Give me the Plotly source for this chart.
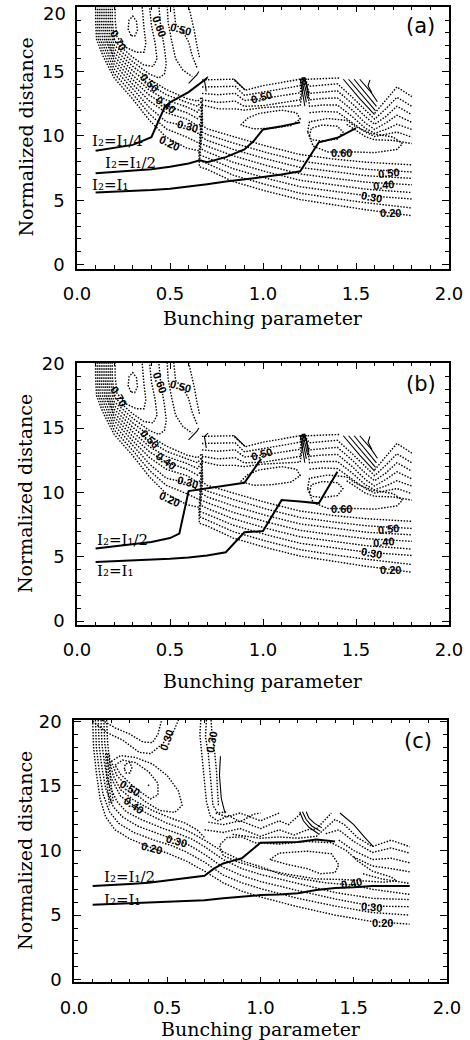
import plotly.graph_objects as go

# ---------------- axis text ----------------
X_TICK_VALUES = [0.0, 0.5, 1.0, 1.5, 2.0]
X_TICK_LABELS = ["0.0", "0.5", "1.0", "1.5", "2.0"]
Y_TICK_VALUES = [0, 5, 10, 15, 20]
Y_TICK_LABELS = ["0", "5", "10", "15", "20"]
X_TITLE = "Bunching parameter"
Y_TITLE = "Normalized distance"
PANEL_TAGS = ["(a)", "(b)", "(c)"]

# ---------------- solid current-ratio curves ----------------
a_i14_x = [0.10, 0.20, 0.30, 0.40, 0.47, 0.50, 0.60, 0.70]
a_i14_y = [8.85, 9.05, 9.30, 9.90, 12.20, 12.60, 13.40, 14.50]
a_i12_x = [0.10, 0.20, 0.30, 0.40, 0.50, 0.60, 0.66, 0.70, 0.80, 0.90, 0.95, 1.00, 1.10, 1.20]
a_i12_y = [7.10, 7.20, 7.30, 7.40, 7.60, 7.85, 8.10, 7.95, 8.35, 8.95, 9.60, 10.50, 10.75, 11.05]
a_i11_x = [0.10, 0.20, 0.30, 0.40, 0.50, 0.60, 0.70, 0.80, 0.90, 1.00, 1.10, 1.20, 1.30, 1.40, 1.50]
a_i11_y = [5.60, 5.65, 5.70, 5.80, 5.90, 6.05, 6.25, 6.45, 6.60, 6.80, 7.00, 7.25, 9.50, 9.85, 10.60]

b_i12_x = [0.10, 0.20, 0.30, 0.40, 0.50, 0.55, 0.60, 0.70, 0.80, 0.90, 0.99]
b_i12_y = [5.65, 5.80, 5.95, 6.15, 6.45, 6.80, 10.10, 10.30, 10.50, 10.75, 12.60]
b_i11_x = [0.10, 0.20, 0.30, 0.40, 0.50, 0.60, 0.70, 0.80, 0.90, 1.00, 1.10, 1.20, 1.30, 1.40]
b_i11_y = [4.60, 4.65, 4.70, 4.75, 4.85, 4.95, 5.10, 5.35, 6.90, 7.00, 9.40, 9.30, 9.15, 11.60]

c_i12_x = [0.10, 0.20, 0.30, 0.40, 0.50, 0.60, 0.70, 0.75, 0.80, 0.85, 0.90, 1.00, 1.10, 1.20, 1.30, 1.40]
c_i12_y = [7.25, 7.30, 7.40, 7.50, 7.70, 7.85, 8.05, 8.60, 9.00, 9.20, 9.40, 10.60, 10.62, 10.65, 10.85, 10.70]
c_i11_x = [0.10, 0.20, 0.30, 0.40, 0.50, 0.60, 0.70, 0.80, 0.90, 1.00, 1.10, 1.20, 1.30, 1.40, 1.50, 1.60, 1.70, 1.80]
c_i11_y = [5.80, 5.85, 5.90, 5.95, 6.00, 6.05, 6.15, 6.30, 6.42, 6.55, 6.60, 6.70, 6.95, 7.10, 7.15, 7.25, 7.25, 7.25]

# curve captions: (text, x, y)
a_captions = [("I₂=I₁/4", 0.07, 9.6),
              ("I₂=I₁/2", 0.14, 7.9),
              ("I₂=I₁", 0.07, 6.2)]
b_captions = [("I₂=I₁/2", 0.097, 6.3),
              ("I₂=I₁", 0.097, 3.9)]
c_captions = [("I₂=I₁/2", 0.15, 7.95),
              ("I₂=I₁", 0.15, 6.17)]

# ---------------- efficiency contours, panels (a) and (b) ----------------
ab_c020 = [(0.100, 20.1), (0.100, 19.0), (0.105, 17.5), (0.14, 16.2), (0.20, 14.5), (0.30, 12.85), (0.39, 11.2), (0.48, 9.9), (0.59, 9.05), (0.648, 8.85), (0.655, 8.85), (0.658, 7.6), (0.70, 7.4), (0.84, 6.45), (1.02, 5.70), (1.20, 5.05), (1.38, 4.65), (1.56, 4.25), (1.80, 3.80)]
ab_c025 = [(0.110, 20.1), (0.110, 19.0), (0.115, 17.5), (0.15, 16.3), (0.20, 14.85), (0.30, 13.25), (0.39, 11.7), (0.48, 10.55), (0.59, 9.9), (0.648, 9.5), (0.6575, 9.5), (0.6605, 8.1), (0.70, 7.85), (0.84, 6.95), (1.02, 6.20), (1.20, 5.55), (1.38, 5.15), (1.56, 4.80), (1.80, 4.40)]
ab_c030 = [(0.120, 20.1), (0.120, 19.0), (0.125, 17.5), (0.16, 16.4), (0.20, 15.2), (0.30, 13.65), (0.39, 12.2), (0.48, 11.1), (0.59, 10.75), (0.648, 10.2), (0.660, 10.2), (0.663, 8.5), (0.70, 8.30), (0.84, 7.45), (1.02, 6.70), (1.20, 6.05), (1.38, 5.70), (1.56, 5.35), (1.80, 5.10)]
ab_c035 = [(0.130, 20.1), (0.130, 19.0), (0.137, 17.5), (0.17, 16.5), (0.20, 15.55), (0.30, 14.0), (0.39, 12.7), (0.48, 11.8), (0.59, 11.3), (0.648, 10.8), (0.6625, 10.9), (0.6655, 9.0), (0.70, 8.75), (0.84, 7.95), (1.02, 7.20), (1.20, 6.55), (1.38, 6.20), (1.56, 5.85), (1.80, 5.60)]
ab_c040 = [(0.140, 20.1), (0.140, 19.0), (0.148, 17.5), (0.18, 16.6), (0.20, 15.85), (0.30, 14.35), (0.39, 13.15), (0.48, 12.35), (0.59, 11.8), (0.648, 11.35), (0.665, 11.6), (0.668, 9.4), (0.70, 9.20), (0.84, 8.45), (1.02, 7.70), (1.20, 7.05), (1.38, 6.70), (1.56, 6.40), (1.80, 6.20)]
ab_c045 = [(0.150, 20.1), (0.150, 19.0), (0.158, 17.5), (0.20, 16.15), (0.30, 14.7), (0.39, 13.55), (0.48, 12.8), (0.59, 12.25), (0.648, 11.85), (0.6675, 12.3), (0.6705, 9.9), (0.70, 9.65), (0.84, 8.95), (1.02, 8.20), (1.20, 7.55), (1.38, 7.20), (1.56, 6.90), (1.80, 6.70)]
ab_c050 = [(0.160, 20.1), (0.160, 19.0), (0.168, 17.5), (0.20, 16.45), (0.30, 15.05), (0.39, 14.0), (0.48, 13.2), (0.59, 12.6), (0.648, 12.3), (0.670, 12.7), (0.673, 10.3), (0.70, 10.10), (0.84, 9.45), (1.02, 8.70), (1.20, 8.05), (1.38, 7.70), (1.56, 7.40), (1.80, 7.20)]
ab_c055 = [(0.170, 20.1), (0.170, 19.0), (0.178, 17.5), (0.20, 16.75), (0.30, 15.4), (0.39, 14.4), (0.48, 13.6), (0.59, 12.9), (0.648, 12.7), (0.6725, 13.0), (0.6755, 10.8), (0.70, 10.55), (0.84, 9.95), (1.02, 9.20), (1.20, 8.55), (1.38, 8.20), (1.56, 7.95), (1.80, 7.75)]
ab_c060 = [(0.18, 20.1), (0.18, 19.0), (0.19, 17.5), (0.20, 17.05), (0.30, 15.75), (0.39, 14.8), (0.44, 14.5), (0.47, 14.8), (0.48, 15.6), (0.47, 16.8), (0.45, 18.5), (0.44, 20.1)]
ab_c065 = [(0.19, 20.1), (0.19, 19.0), (0.20, 17.4), (0.30, 16.1), (0.36, 15.5), (0.41, 15.4), (0.43, 16.0), (0.42, 17.2), (0.40, 18.6), (0.39, 20.1)]
ab_c070 = [(0.205, 20.1), (0.205, 19.0), (0.215, 17.7), (0.26, 16.9), (0.32, 16.5), (0.36, 16.5), (0.37, 17.2), (0.36, 18.4), (0.35, 20.1)]
ab_c075 = [(0.29, 17.8), (0.275, 18.3), (0.28, 19.0), (0.30, 19.3), (0.32, 18.9), (0.325, 18.2), (0.31, 17.75), (0.29, 17.8)]
ab_r055 = [(0.485, 20.1), (0.49, 18.8), (0.51, 17.3), (0.53, 16.0), (0.57, 15.1), (0.62, 14.6)]
ab_r050 = [(0.52, 20.1), (0.53, 18.7), (0.57, 18.1), (0.60, 17.3), (0.62, 16.2), (0.645, 15.3)]
ab_r045 = [(0.60, 20.1), (0.615, 19.2), (0.63, 18.2), (0.645, 17.0), (0.66, 16.0)]
ab_up1 = [(0.672, 14.35), (0.76, 14.35), (0.84, 14.4), (0.905, 13.55), (1.0, 13.9), (1.1, 14.15), (1.2, 14.4), (1.24, 14.4), (1.32, 14.45), (1.41, 14.5)]
ab_up1r = [(1.6, 11.75), (1.66, 12.75), (1.72, 13.8), (1.8, 13.05)]
ab_up2 = [(0.672, 13.8), (0.76, 13.8), (0.85, 13.85), (0.90, 13.15), (1.0, 13.4), (1.1, 13.65), (1.2, 13.9), (1.205, 14.5), (1.213, 14.5), (1.25, 13.85), (1.32, 13.95), (1.4, 14.05), (1.48, 13.0), (1.55, 12.0), (1.6, 11.3), (1.66, 12.1), (1.72, 13.0), (1.8, 12.3)]
ab_up3 = [(0.672, 13.3), (0.76, 13.2), (0.85, 13.3), (0.90, 12.75), (1.0, 12.9), (1.1, 13.15), (1.2, 13.35), (1.211, 14.5), (1.219, 14.5), (1.25, 13.3), (1.32, 13.4), (1.4, 13.5), (1.48, 12.5), (1.55, 11.5), (1.6, 10.9), (1.66, 11.5), (1.72, 12.3), (1.8, 11.65)]
ab_up4 = [(0.672, 12.8), (0.76, 12.6), (0.85, 12.7), (0.90, 12.3), (1.0, 12.35), (1.1, 12.6), (1.2, 12.8), (1.217, 14.5), (1.225, 14.5), (1.25, 12.8), (1.32, 12.9), (1.4, 12.95), (1.48, 12.0), (1.55, 11.0), (1.6, 10.5), (1.66, 11.0), (1.72, 11.6), (1.8, 11.05)]
ab_up5 = [(0.672, 12.4), (0.76, 12.1), (0.85, 12.1), (0.90, 12.0), (1.0, 12.2), (1.1, 12.3), (1.2, 12.35), (1.223, 14.5), (1.231, 14.5), (1.25, 12.3), (1.32, 12.4), (1.4, 12.4), (1.48, 11.5), (1.55, 10.6), (1.6, 10.2), (1.66, 10.5), (1.72, 10.9), (1.8, 10.5)]
ab_up6 = [(1.25, 11.8), (1.32, 11.9), (1.4, 11.85), (1.48, 11.0), (1.55, 10.3), (1.6, 9.95), (1.66, 10.1), (1.72, 10.3), (1.8, 9.9)]
ab_up7 = [(1.45, 10.9), (1.5, 10.4), (1.55, 9.95), (1.6, 9.7), (1.7, 9.65), (1.8, 9.4)]
ab_mid_loop = [(0.88, 10.85), (0.92, 11.4), (0.98, 11.75), (1.1, 12.0), (1.18, 11.8), (1.2, 11.3), (1.15, 10.8), (1.05, 10.6), (0.95, 10.55), (0.88, 10.85)]
ab_right_small = [(1.25, 10.0), (1.26, 10.6), (1.32, 10.85), (1.40, 10.75), (1.43, 10.3), (1.40, 9.75), (1.32, 9.6), (1.26, 9.7), (1.25, 10.0)]
ab_right_big = [(1.24, 10.3), (1.25, 11.1), (1.35, 11.35), (1.45, 11.2), (1.5, 10.7), (1.58, 10.2), (1.70, 9.9), (1.75, 9.4), (1.72, 8.95), (1.6, 8.7), (1.5, 8.75), (1.35, 8.75), (1.27, 9.2), (1.24, 10.3)]
ab_dotted = [ab_c020, ab_c025, ab_c030, ab_c035, ab_c040, ab_c045, ab_c050, ab_c055,
             ab_c060, ab_c065, ab_c070, ab_c075, ab_r055, ab_r050, ab_r045,
             ab_up1, ab_up1r, ab_up2, ab_up3, ab_up4, ab_up5, ab_up6, ab_up7,
             ab_mid_loop, ab_right_small, ab_right_big]

ab_s_arc = [(0.60, 14.08), (0.625, 14.45), (0.645, 14.75), (0.655, 15.0)]
ab_s_hook = [(0.705, 14.6), (0.685, 14.35), (0.695, 13.45)]
ab_s_zig = [(0.845, 14.4), (0.875, 13.95), (0.905, 13.55)]
ab_s_h1 = [(1.200, 14.45), (1.225, 12.3)]
ab_s_h2 = [(1.208, 14.45), (1.233, 12.6)]
ab_s_h3 = [(1.216, 14.45), (1.240, 12.9)]
ab_s_h4 = [(1.224, 14.45), (1.247, 13.2)]
ab_s_1 = [(1.432, 14.4), (1.52, 12.9), (1.60, 11.65)]
ab_s_2 = [(1.46, 14.4), (1.54, 13.0), (1.605, 11.95)]
ab_s_3 = [(1.49, 14.4), (1.56, 13.2), (1.61, 12.3)]
ab_s_4 = [(1.52, 14.4), (1.58, 13.4), (1.615, 12.65)]
ab_s_5 = [(1.575, 14.35), (1.565, 13.9), (1.585, 13.35)]
ab_solid = [ab_s_arc, ab_s_hook, ab_s_zig, ab_s_h1, ab_s_h2, ab_s_h3, ab_s_h4,
            ab_s_1, ab_s_2, ab_s_3, ab_s_4, ab_s_5]

ab_labels = [("0.70", 0.222, 17.45, 60), ("0.60", 0.446, 18.49, 70), ("0.50", 0.554, 18.28, 15),
             ("0.50", 0.392, 14.13, 45), ("0.40", 0.478, 12.4, 35), ("0.30", 0.593, 10.77, 15),
             ("0.20", 0.496, 9.47, 25), ("0.50", 0.993, 13.0, -15), ("0.60", 1.423, 8.7, 0),
             ("0.50", 1.674, 7.14, -5), ("0.40", 1.647, 6.18, -5), ("0.30", 1.584, 5.28, 10),
             ("0.20", 1.683, 3.99, 0)]

# ---------------- efficiency contours, panel (c) ----------------
c_c020 = [(0.10, 20.1), (0.105, 18.0), (0.12, 16.0), (0.14, 14.0), (0.17, 12.6), (0.22, 11.6), (0.30, 10.9), (0.416, 10.2), (0.50, 9.8), (0.60, 9.2), (0.70, 8.4), (0.80, 7.5), (0.90, 6.85), (1.0, 6.4), (1.2, 5.65), (1.4, 5.0), (1.6, 4.5), (1.8, 4.3)]
c_c025 = [(0.115, 20.1), (0.12, 18.0), (0.135, 16.2), (0.155, 14.4), (0.19, 13.0), (0.24, 12.1), (0.32, 11.4), (0.43, 10.8), (0.52, 10.4), (0.60, 9.9), (0.70, 9.1), (0.80, 8.1), (0.90, 7.5), (1.0, 7.05), (1.2, 6.3), (1.4, 5.7), (1.6, 5.2), (1.8, 5.0)]
c_c030 = [(0.13, 20.1), (0.135, 18.1), (0.15, 16.4), (0.17, 14.8), (0.21, 13.4), (0.26, 12.6), (0.34, 11.9), (0.45, 11.3), (0.55, 10.8), (0.62, 10.4), (0.70, 9.7), (0.80, 8.7), (0.90, 8.05), (1.0, 7.6), (1.2, 6.9), (1.4, 6.25), (1.6, 5.7), (1.8, 5.65)]
c_c035 = [(0.145, 20.1), (0.15, 18.2), (0.165, 16.6), (0.185, 15.2), (0.23, 13.8), (0.28, 13.0), (0.36, 12.4), (0.47, 11.75), (0.56, 11.3), (0.63, 10.9), (0.70, 10.3), (0.80, 9.3), (0.90, 8.6), (1.0, 8.15), (1.2, 7.45), (1.4, 6.75), (1.6, 6.3), (1.8, 6.2)]
c_c040 = [(0.16, 20.1), (0.165, 18.3), (0.18, 16.8), (0.20, 15.6), (0.25, 14.2), (0.318, 13.5), (0.40, 12.8), (0.50, 12.1), (0.58, 11.7), (0.64, 11.3), (0.70, 10.8), (0.80, 9.9), (0.90, 9.2), (1.0, 8.75), (1.1, 8.2), (1.2, 7.85), (1.35, 7.5), (1.489, 7.33), (1.6, 7.0), (1.8, 6.6)]
c_c045 = [(0.175, 20.1), (0.18, 18.4), (0.19, 17.0), (0.21, 15.8), (0.25, 14.7), (0.32, 13.9), (0.42, 13.1), (0.52, 12.5), (0.60, 12.1), (0.66, 11.6), (0.70, 11.0)]
c_h1 = [(0.17, 17.5), (0.175, 15.5), (0.19, 13.5)]
c_h2 = [(0.18, 17.5), (0.185, 15.5), (0.20, 13.6)]
c_h3 = [(0.19, 17.4), (0.195, 15.6), (0.21, 13.8)]
c_p1 = [(0.27, 16.3), (0.275, 16.7), (0.30, 16.8), (0.31, 16.4), (0.30, 16.0), (0.28, 16.0), (0.27, 16.3)]
c_dot = [(0.398, 15.0), (0.402, 15.1)]
c_p2 = [(0.22, 16.6), (0.26, 17.0), (0.33, 16.8), (0.40, 16.1), (0.45, 15.2), (0.45, 14.3), (0.41, 14.0), (0.36, 14.5), (0.30, 15.2), (0.25, 15.9), (0.22, 16.6)]
c_p3 = [(0.20, 16.9), (0.25, 17.35), (0.33, 17.2), (0.42, 16.7), (0.50, 15.8), (0.56, 14.6), (0.58, 13.5), (0.54, 12.95), (0.46, 13.1), (0.38, 13.8), (0.297, 14.8), (0.23, 15.8), (0.20, 16.9)]
c_t1 = [(0.10, 20.0), (0.18, 19.1), (0.26, 18.55), (0.35, 17.6), (0.41, 17.5), (0.47, 18.2), (0.53, 19.1), (0.56, 20.1)]
c_t2 = [(0.15, 20.1), (0.22, 19.5), (0.30, 19.0), (0.37, 18.4), (0.42, 18.35), (0.45, 19.0), (0.47, 20.1)]
c_v1 = [(0.68, 20.1), (0.675, 19.0), (0.685, 17.5), (0.70, 15.5), (0.71, 13.8), (0.73, 12.7), (0.77, 12.3), (0.83, 12.7), (0.89, 12.2), (0.96, 12.8), (1.0, 12.9)]
c_v2 = [(0.71, 20.1), (0.705, 18.8), (0.72, 17.5), (0.735, 15.0), (0.745, 13.5), (0.77, 12.9), (0.82, 13.0)]
c_v3 = [(0.735, 20.1), (0.74, 19.0), (0.755, 17.5), (0.765, 16.0), (0.77, 14.5), (0.775, 13.4)]
c_z1 = [(0.76, 12.9), (0.82, 12.6), (0.89, 12.9), (1.0, 12.3), (1.1, 12.9)]
c_z2 = [(0.72, 12.2), (0.80, 12.0), (0.89, 12.3), (1.0, 11.7), (1.1, 12.3), (1.15, 12.0), (1.22, 12.9)]
c_z3 = [(0.70, 11.6), (0.80, 11.4), (0.89, 11.7), (1.0, 11.1), (1.1, 11.6), (1.18, 11.2), (1.25, 11.6), (1.30, 11.67), (1.38, 12.9)]
c_z4 = [(0.85, 11.25), (1.0, 10.95), (1.1, 11.05), (1.2, 10.95), (1.3, 11.1), (1.36, 11.9), (1.40, 12.4), (1.45, 12.0), (1.52, 11.0), (1.6, 10.3), (1.7, 10.8), (1.8, 10.3)]
c_z5 = [(1.35, 11.3), (1.42, 11.6), (1.5, 10.7), (1.6, 9.85), (1.7, 10.2), (1.8, 9.8)]
c_z6 = [(1.42, 10.8), (1.5, 10.0), (1.6, 9.3), (1.7, 9.4), (1.8, 9.05)]
c_z7 = [(1.5, 9.5), (1.6, 8.8), (1.7, 8.6), (1.8, 8.35)]
c_z8 = [(1.55, 8.2), (1.65, 7.8), (1.8, 7.45)]
c_loop_outer = [(0.80, 9.6), (0.78, 10.4), (0.82, 11.0), (0.90, 11.05), (0.97, 10.6), (1.1, 10.5), (1.25, 10.7), (1.38, 10.6), (1.46, 10.0), (1.52, 9.2), (1.6, 8.4), (1.7, 7.95), (1.73, 7.65), (1.66, 7.55), (1.55, 7.65), (1.45, 7.75), (1.3, 7.8), (1.15, 8.15), (1.0, 8.6), (0.88, 9.1), (0.80, 9.6)]
c_loop_inner = [(1.05, 9.3), (1.1, 9.8), (1.25, 9.95), (1.38, 9.75), (1.42, 8.9), (1.40, 8.3), (1.32, 8.2), (1.25, 8.6), (1.15, 8.9), (1.05, 9.3)]
c_dotted = [c_c020, c_c025, c_c030, c_c035, c_c040, c_c045, c_h1, c_h2, c_h3,
            c_p1, c_dot, c_p2, c_p3, c_t1, c_t2, c_v1, c_v2, c_v3,
            c_z1, c_z2, c_z3, c_z4, c_z5, c_z6, c_z7, c_z8, c_loop_outer, c_loop_inner]

c_s1 = [(0.785, 17.3), (0.78, 15.8), (0.79, 14.0), (0.81, 12.9)]
c_s2 = [(1.21, 13.0), (1.23, 12.3), (1.26, 11.8), (1.31, 11.3)]
c_s3 = [(1.225, 13.0), (1.245, 12.4), (1.275, 11.9), (1.32, 11.5)]
c_s4 = [(1.245, 13.0), (1.26, 12.5), (1.29, 12.1), (1.33, 11.75)]
c_s5 = [(1.426, 12.9), (1.5, 12.0), (1.56, 11.0), (1.605, 10.3)]
c_solid = [c_s1, c_s2, c_s3, c_s4, c_s5]

c_labels = [("0.30", 0.497, 18.55, -70), ("0.30", 0.738, 18.4, -80), ("0.50", 0.297, 14.8, 30),
            ("0.40", 0.318, 13.5, 35), ("0.30", 0.55, 10.76, 15), ("0.20", 0.416, 10.16, 15),
            ("0.40", 1.489, 7.45, -10), ("0.30", 1.596, 5.6, 5), ("0.20", 1.655, 4.36, 0)]

# ---------------- figure ----------------
fig = go.Figure()
DOT = "1.5px,1.5px"


def add_polys(polys, xa, ya, dash, width):
    for p in polys:
        fig.add_trace(go.Scatter(x=[q[0] for q in p], y=[q[1] for q in p], mode="lines",
                                 line=dict(color="black", width=width, dash=dash),
                                 xaxis=xa, yaxis=ya, hoverinfo="skip", showlegend=False))


def add_curve(xs, ys, xa, ya):
    fig.add_trace(go.Scatter(x=xs, y=ys, mode="lines", line=dict(color="black", width=2.0),
                             xaxis=xa, yaxis=ya, hoverinfo="skip", showlegend=False))


# panel a
add_polys(ab_dotted, "x", "y", DOT, 1.4)
add_polys(ab_solid, "x", "y", "solid", 1.1)
add_curve(a_i14_x, a_i14_y, "x", "y")
add_curve(a_i12_x, a_i12_y, "x", "y")
add_curve(a_i11_x, a_i11_y, "x", "y")
# panel b
add_polys(ab_dotted, "x2", "y2", DOT, 1.4)
add_polys(ab_solid, "x2", "y2", "solid", 1.1)
add_curve(b_i12_x, b_i12_y, "x2", "y2")
add_curve(b_i11_x, b_i11_y, "x2", "y2")
# panel c
add_polys(c_dotted, "x3", "y3", DOT, 1.4)
add_polys(c_solid, "x3", "y3", "solid", 1.1)
add_curve(c_i12_x, c_i12_y, "x3", "y3")
add_curve(c_i11_x, c_i11_y, "x3", "y3")

annotations = []
for labels, xr, yr in [(ab_labels, "x", "y"), (ab_labels, "x2", "y2"), (c_labels, "x3", "y3")]:
    for t, lx, ly, ang in labels:
        annotations.append(dict(text="<b>" + t + "</b>", x=lx, y=ly, xref=xr, yref=yr, showarrow=False,
                                textangle=ang, font=dict(family="Liberation Sans", size=11, color="black"),
                                xanchor="center", yanchor="middle"))
for caps, xr, yr in [(a_captions, "x", "y"), (b_captions, "x2", "y2"), (c_captions, "x3", "y3")]:
    for t, lx, ly in caps:
        annotations.append(dict(text=t, x=lx, y=ly, xref=xr, yref=yr, showarrow=False,
                                font=dict(family="DejaVu Serif", size=15, color="black"),
                                xanchor="left", yanchor="middle"))

W, H = 470, 1040
x_dom_ab = [77 / W, 449 / W]
x_dom_c = [74 / W, 447 / W]
y_doms = [[1 - 268.5 / H, 1 - 6.5 / H], [1 - 625 / H, 1 - 363 / H], [1 - 982.3 / H, 1 - 719.5 / H]]
x_doms = [x_dom_ab, x_dom_ab, x_dom_c]
y_ranges = [[-0.3, 20.05], [-0.3, 20.05], [-0.2, 20.14]]
title_y = [318, 681, 1029]
tag_pos = [(420, 26), (421, 384), (418, 741)]
TICK_FONT = dict(family="DejaVu Sans", size=18, color="black")

layout_axes = {}
for i in range(3):
    sx = "" if i == 0 else str(i + 1)
    # the top label of panel (a) sits at the page edge; it is drawn as an annotation just below it
    y_text = Y_TICK_LABELS[:4] + [""] if i == 0 else Y_TICK_LABELS
    layout_axes["xaxis" + sx] = dict(
        domain=x_doms[i], anchor="y" + sx, range=[0, 2.0], automargin=False,
        tickmode="array", tickvals=X_TICK_VALUES, ticktext=X_TICK_LABELS,
        ticks="inside", ticklen=6, tickwidth=1.2, tickcolor="black",
        minor=dict(ticks="inside", ticklen=3.5, tickwidth=1, tickcolor="black", dtick=0.1, tick0=0, showgrid=False),
        showline=True, linecolor="black", linewidth=1.5, mirror="allticks",
        showgrid=False, zeroline=False, ticklabelstandoff=8, ticklabeloverflow="allow",
        tickfont=TICK_FONT)
    layout_axes["yaxis" + sx] = dict(
        domain=y_doms[i], anchor="x" + sx, range=y_ranges[i], automargin=False,
        tickmode="array", tickvals=Y_TICK_VALUES, ticktext=y_text,
        ticks="inside", ticklen=7, tickwidth=1.2, tickcolor="black",
        minor=dict(ticks="inside", ticklen=4, tickwidth=1, tickcolor="black", dtick=1, tick0=0, showgrid=False),
        showline=True, linecolor="black", linewidth=1.5, mirror="allticks",
        showgrid=False, zeroline=False, ticklabelstandoff=7, ticklabeloverflow="allow",
        tickfont=TICK_FONT)
    xc = (x_doms[i][0] + x_doms[i][1]) / 2
    yc = (y_doms[i][0] + y_doms[i][1]) / 2
    annotations.append(dict(text=X_TITLE, x=xc, y=1 - title_y[i] / H, xref="paper", yref="paper",
                            showarrow=False, xanchor="center", yanchor="middle",
                            font=dict(family="DejaVu Serif", size=19, color="black")))
    annotations.append(dict(text=Y_TITLE, x=25 / W, y=yc, xref="paper", yref="paper",
                            showarrow=False, xanchor="center", yanchor="middle", textangle=-90,
                            font=dict(family="DejaVu Serif", size=19, color="black")))
    annotations.append(dict(text=PANEL_TAGS[i], x=tag_pos[i][0] / W, y=1 - tag_pos[i][1] / H,
                            xref="paper", yref="paper", showarrow=False, xanchor="center", yanchor="middle",
                            font=dict(family="DejaVu Sans", size=21, color="black")))

annotations.append(dict(text=Y_TICK_LABELS[4], x=68 / W, y=1 - 14 / H, xref="paper", yref="paper",
                        showarrow=False, xanchor="right", yanchor="middle", font=TICK_FONT))

fig.update_layout(width=W, height=H, margin=dict(l=0, r=0, t=0, b=0, autoexpand=False),
                  paper_bgcolor="white", plot_bgcolor="white", showlegend=False,
                  annotations=annotations, **layout_axes)
fig.write_html("out.html", config={"displayModeBar": False},
               post_script="document.body.style.margin='0';document.body.style.padding='0';")
